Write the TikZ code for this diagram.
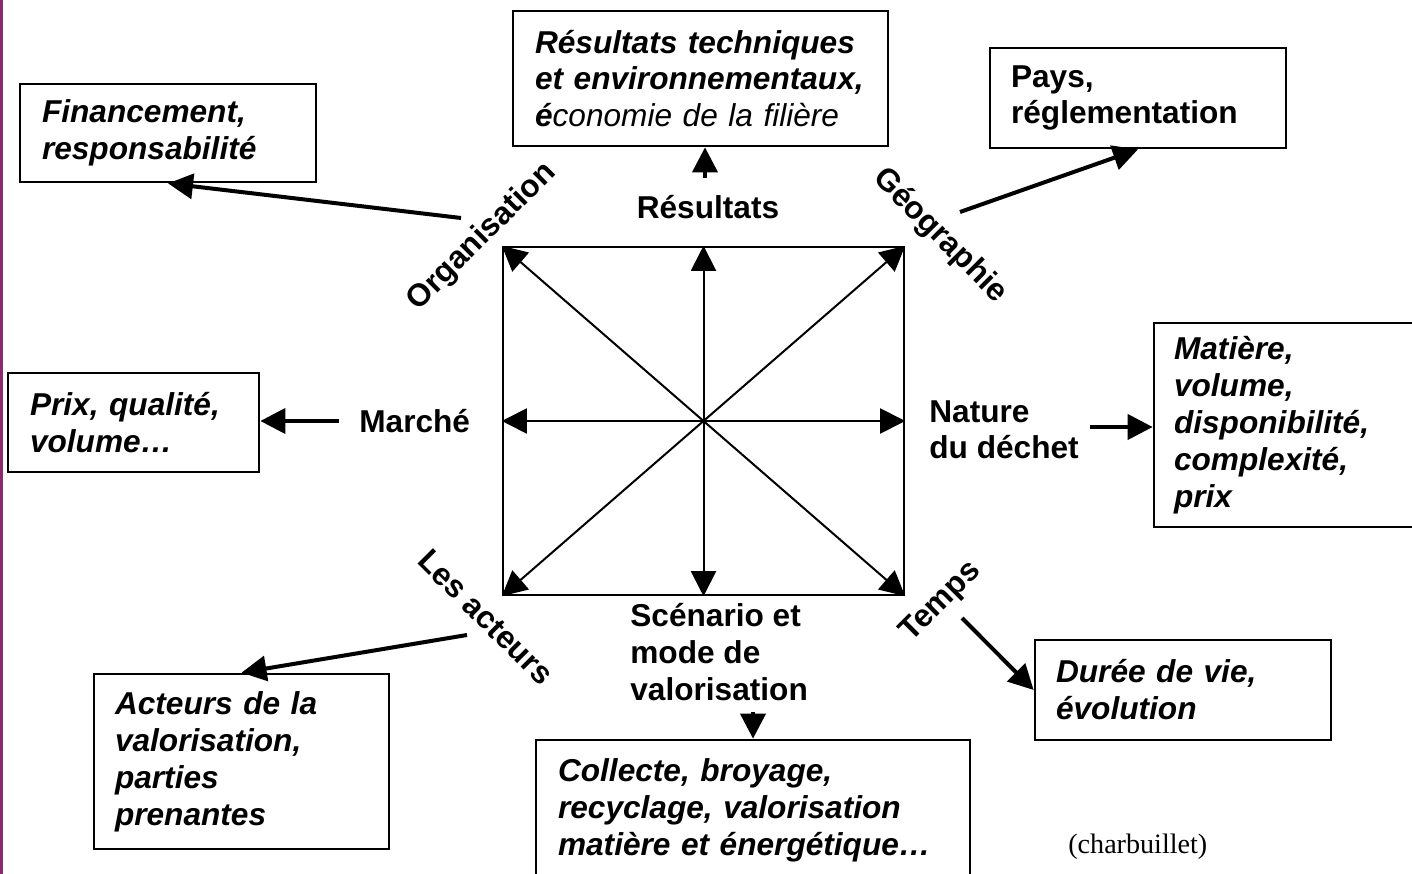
\documentclass[tikz,border=0pt]{standalone}
\usepackage{fontspec}
\setmainfont{Liberation Sans}
\newfontfamily\timesfont{Liberation Serif}
\usetikzlibrary{arrows.meta}
\definecolor{bordeaux}{RGB}{138,43,110}
\tikzset{
    box/.style = {draw, rectangle, line width=0.055cm,
        align=left, inner ysep=0.1cm,
        font=\fontsize{18}{21}\selectfont\bfseries\itshape},
    facet/.style = {inner sep=0pt, align=left,
        font=\fontsize{18}{21}\selectfont\bfseries},
    ray/.style = {draw, line width=0.04cm, -{Triangle[length=0.5cm,width=0.5cm]}},
    arrow/.style = {draw, line width=0.08cm, -{Triangle[length=0.5cm,width=0.5cm]}}
}

\begin{document}
\begin{tikzpicture}[x=0.02cm, y=-0.02cm]
    \useasboundingbox (0,0) rectangle (1412,874);
    \draw [bordeaux, line width=0.06cm] (1.5,0) -- (1.5,874);

    \node [draw, line width=0.05cm, minimum width=8.02cm, minimum height=6.96cm, inner sep=0pt] (carre) at (703.5,421) {};
    \foreach \a in {north, north east, east, south east, south, south west, west, north west}
        \draw [ray] (carre.center) -- (carre.\a);

    \node [facet, anchor=base] (result) at (708,219) {Résultats};
    \node [facet, anchor=base west] (marche) at (359,433) {Marché};
    \node [facet, anchor=base west] (nature) at (929,459) {Nature\\du déchet};
    \node [facet, anchor=base west] (scenario) at (630,700) {Scénario et\\mode de\\valorisation};
    \node [facet, rotate=45] (orga) at (482,237) {Organisation};
    \node [facet, rotate=-45] (geo) at (940,236) {Géographie};
    \node [facet, rotate=-45] (acteurs) at (486,617) {Les acteurs};
    \node [facet, rotate=45] (temps) at (941,602) {Temps};

    \node [box, text width=5.04cm, inner xsep=0.44cm, minimum height=1.96cm] (finance) at (168,133) {Financement,\\responsabilité};
    \node [box, text width=6.62cm, inner xsep=0.44cm, minimum height=2.7cm] (resultbox) at (700.5,78.5) {Résultats techniques\\et environnementaux,\\é{\mdseries conomie de la filière}};
    \node [box, font=\fontsize{18}{21}\selectfont\bfseries, text width=5.08cm, inner xsep=0.42cm, minimum height=2cm] (paysbox) at (1138,98) {Pays,\\réglementation};
    \node [box, text width=4.14cm, inner xsep=0.44cm, minimum height=1.98cm] (prixbox) at (133.5,422.5) {Prix, qualité,\\volume…};
    \node [box, text width=4.52cm, inner xsep=0.40cm, minimum height=4.08cm] (matbox) at (1287,425) {Matière,\\volume,\\disponibilité,\\complexité,\\prix};
    \node [box, text width=5.06cm, inner xsep=0.42cm, minimum height=3.5cm] (acteurbox) at (241.5,761.5) {Acteurs de la\\valorisation,\\parties\\prenantes};
    \node [box, text width=7.8cm, inner xsep=0.44cm, minimum height=2.8cm] (collectebox) at (753,810) {Collecte, broyage,\\recyclage, valorisation\\matière et énergétique…};
    \node [box, text width=5.08cm, inner xsep=0.42cm, minimum height=2cm] (dureebox) at (1183,690) {Durée de vie,\\évolution};

    \coordinate (orga-out) at (461,218);
    \draw [arrow] (orga-out) -- (finance.south);
    \coordinate (result-out) at (705,178);
    \draw [arrow] (result-out) -- (result-out |- resultbox.south);
    \coordinate (geo-out) at (960,212);
    \draw [arrow] (geo-out) -- (paysbox.south);
    \coordinate (marche-out) at (339,421);
    \draw [arrow] (marche-out) -- (marche-out -| prixbox.east);
    \coordinate (nature-out) at (1090,427);
    \draw [arrow] (nature-out) -- (nature-out -| matbox.west);
    \coordinate (acteurs-out) at (467,635);
    \draw [arrow] (acteurs-out) -- (acteurbox.north);
    \coordinate (scenario-out) at (753,712);
    \draw [arrow] (scenario-out) -- (collectebox.north);
    \coordinate (temps-out) at (962,618);
    \draw [arrow] (temps-out) -- (dureebox.west);

    \node [font=\timesfont\fontsize{16}{19}\selectfont, anchor=base west, inner sep=0pt] (source) at (1068,853) {(charbuillet)};
\end{tikzpicture}
\end{document}
